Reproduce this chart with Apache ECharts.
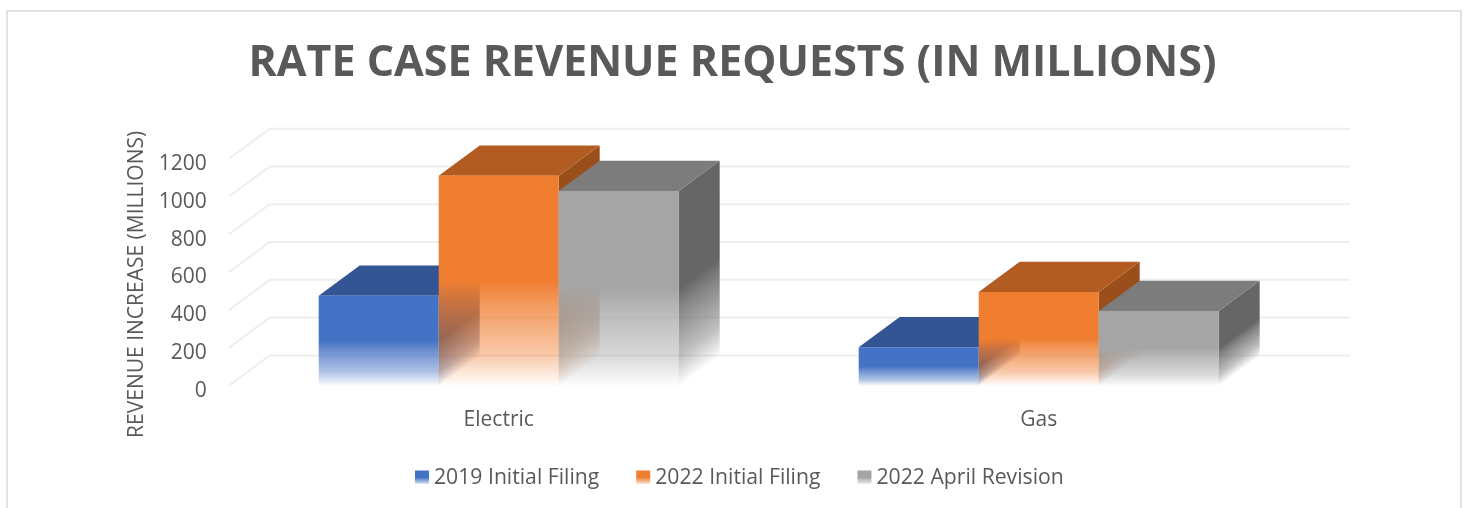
<!DOCTYPE html>
<html>
<head>
<meta charset="utf-8">
<style>html,body{margin:0;padding:0;background:#fff}#chart{width:1469px;height:508px}</style>
<script src="https://cdn.jsdelivr.net/npm/echarts@6/dist/echarts.min.js"></script>
</head>
<body>
<div id="chart"></div>
<script>
const categories = ['Electric', 'Gas'];
const yTicks = [0, 200, 400, 600, 800, 1000, 1200];
const filing2019 = [476, 203];
const filing2022 = [1111, 496];
const revision2022 = [1030, 395];

const DEPTH_X = 41, DEPTH_Y = -30.3, BAR_W = 120;
const FONT = '"Open Sans", sans-serif';
const TEXT = '#595959';

function rgba(hex, a) {
  const n = parseInt(hex.slice(1), 16);
  return 'rgba(' + (n >> 16) + ',' + ((n >> 8) & 255) + ',' + (n & 255) + ',' + a + ')';
}
function fadeStops(hex) {
  return [
    { offset: 0, color: rgba(hex, 1) },
    { offset: 0.5, color: rgba(hex, 1) },
    { offset: 0.6, color: rgba(hex, 0.8) },
    { offset: 0.85, color: rgba(hex, 0.42) },
    { offset: 1, color: rgba(hex, 0.02) }
  ];
}
function verticalFade(hex) {
  return { type: 'linear', x: 0, y: 0, x2: 0, y2: 1, colorStops: fadeStops(hex) };
}
function sideFade(hex, px, topY, baseY) {
  const len = Math.hypot(DEPTH_X, DEPTH_Y);
  const nx = -DEPTH_Y / len, ny = DEPTH_X / len;
  const d = (baseY - topY) * ny;
  return { type: 'linear', global: true, x: px, y: topY, x2: px + nx * d, y2: topY + ny * d, colorStops: fadeStops(hex) };
}
function barRenderer(slot, front, top, side) {
  return function (params, api) {
    const idx = api.value(0);
    const c = api.coord([idx, api.value(1)]);
    const b = api.coord([idx, 0]);
    const x0 = c[0] - 1.5 * BAR_W + slot * BAR_W, x1 = x0 + BAR_W;
    const yt = c[1], yb = b[1];
    const poly = (pts, fill) => ({ type: 'polygon', shape: { points: pts }, style: { fill: fill } });
    return {
      type: 'group',
      children: [
        poly([[x1, yt], [x1 + DEPTH_X, yt + DEPTH_Y], [x1 + DEPTH_X, yb + DEPTH_Y], [x1, yb]], sideFade(side, x1, yt, yb)),
        poly([[x0, yt], [x0 + DEPTH_X, yt + DEPTH_Y], [x1 + DEPTH_X, yt + DEPTH_Y], [x1, yt]], top),
        poly([[x0, yt], [x1, yt], [x1, yb], [x0, yb]], verticalFade(front))
      ]
    };
  };
}
function wallRenderer(params, api) {
  const cs = params.coordSys;
  const p = api.coord([0, api.value(0)]);
  const left = cs.x, right = cs.x + cs.width;
  return {
    type: 'polyline',
    shape: { points: [[left, p[1]], [left + DEPTH_X, p[1] + DEPTH_Y], [right + DEPTH_X, p[1] + DEPTH_Y]] },
    style: { fill: null, stroke: '#EEEEEE', lineWidth: 2 }
  };
}
function barSeries(name, values, slot, front, top, side) {
  return {
    name: name, type: 'custom', coordinateSystem: 'cartesian2d',
    encode: { x: 0, y: 1 }, clip: false,
    itemStyle: { color: verticalFade(front) },
    data: values.map((v, i) => [i, v]),
    renderItem: barRenderer(slot, front, top, side)
  };
}

const chart = echarts.init(document.getElementById('chart'), null, { renderer: 'canvas' });
chart.setOption({
  animation: false,
  backgroundColor: '#fff',
  graphic: [{
    type: 'rect', silent: true, z: -10,
    shape: { x: 7, y: 11, width: 1454, height: 540 },
    style: { fill: '#fff', stroke: '#D9D9D9', lineWidth: 1.5 }
  }],
  title: {
    text: 'RATE CASE REVENUE REQUESTS (IN MILLIONS)',
    left: 727.5, top: 37, textAlign: 'center',
    textStyle: { fontFamily: FONT, fontWeight: 'bold', fontSize: 43, color: TEXT }
  },
  legend: {
    left: 415, top: 467, padding: 0, itemWidth: 14, itemHeight: 14, itemGap: 37,
    icon: 'rect',
    textStyle: { fontFamily: FONT, fontSize: 21.2, color: TEXT },
    data: ['2019 Initial Filing', '2022 Initial Filing', '2022 April Revision']
  },
  grid: { left: 228.7, right: 160.3, top: 159, bottom: 122.3 },
  xAxis: {
    type: 'category', data: categories,
    axisLine: { show: false }, axisTick: { show: false }, splitLine: { show: false },
    axisLabel: { fontFamily: FONT, fontSize: 21, color: TEXT, margin: 24 }
  },
  yAxis: {
    type: 'value', min: 0, max: 1200, interval: 200,
    name: 'REVENUE INCREASE (MILLIONS)', nameLocation: 'middle', nameGap: 81, nameRotate: 90,
    nameTextStyle: { fontFamily: FONT, fontSize: 21, color: TEXT, padding: [0, 24, 0, 0] },
    axisLine: { show: false }, axisTick: { show: false }, splitLine: { show: false },
    axisLabel: { fontFamily: FONT, fontSize: 21, color: TEXT, margin: 22, verticalAlign: 'top', lineHeight: 10, formatter: v => String(v) }
  },
  series: [
    {
      type: 'custom', coordinateSystem: 'cartesian2d', encode: { y: 0 }, clip: false, silent: true, z: 1,
      data: yTicks.map(v => [v]), renderItem: wallRenderer
    },
    Object.assign(barSeries('2019 Initial Filing', filing2019, 0, '#4472C4', '#335593', '#2F4C80'), { z: 2 }),
    Object.assign(barSeries('2022 Initial Filing', filing2022, 1, '#EF7D30', '#B35C22', '#9A4F1B'), { z: 3 }),
    Object.assign(barSeries('2022 April Revision', revision2022, 2, '#A5A5A5', '#7C7C7C', '#666666'), { z: 4 })
  ]
});
</script>
</body>
</html>
